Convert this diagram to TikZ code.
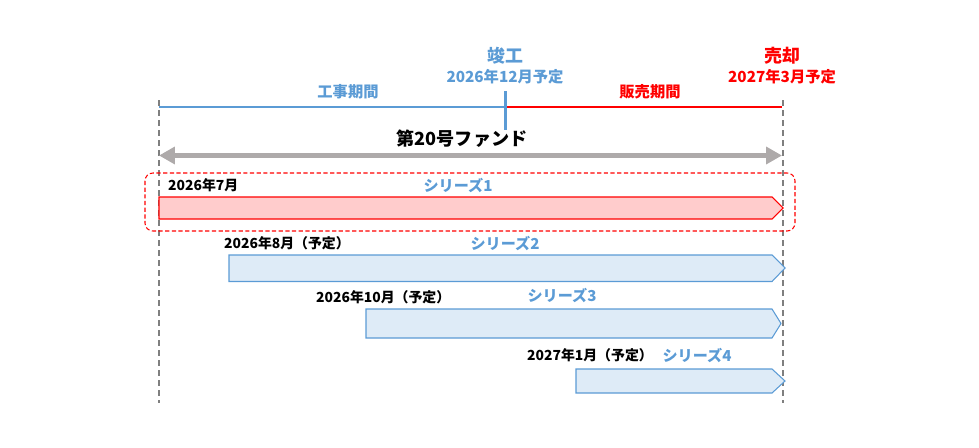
\documentclass[tikz,border=0pt]{standalone}
\usepackage{fontspec}
\setmainfont{Noto Sans CJK JP}
\usetikzlibrary{arrows.meta}
\definecolor{kblue}{HTML}{5B9BD5}
\definecolor{kred}{HTML}{FF0000}
\definecolor{kgray}{HTML}{AEAAAA}
\definecolor{kdash}{HTML}{7F7F7F}
\definecolor{redfill}{HTML}{FFCCCC}
\definecolor{bluefill}{HTML}{DEEBF7}
\begin{document}
\begin{tikzpicture}[x=0.02cm, y=-0.02cm,
    datum/.style={anchor=west, font=\bfseries\fontsize{7.9}{9}\selectfont},
    serie/.style={text=kblue, font=\bfseries\fontsize{8.6}{10}\selectfont},
    kop/.style={font=\bfseries\fontsize{10.2}{12}\selectfont},
    sub/.style={font=\bfseries\fontsize{8.7}{10}\selectfont},
    bluebar/.style={draw=kblue, fill=bluefill, line width=0.6pt},
    redbar/.style={draw=kred, fill=redfill, line width=0.6pt}]
    \useasboundingbox (0, 0) rectangle (979, 447);

    %% grenzen
    \coordinate (lt) at (159, 100);
    \coordinate (lb) at (159, 403);
    \coordinate (rt) at (783, 100);
    \coordinate (rb) at (783, 403);
    \draw[kdash, line width=1.1pt, dash pattern=on 3.4pt off 2.3pt] (lt) to (lb);
    \draw[kdash, line width=1.1pt, dash pattern=on 3.4pt off 2.3pt] (rt) to (rb);

    %% periodes
    \coordinate (bs) at (159, 107);
    \coordinate (bm) at (505, 107);
    \coordinate (be) at (782, 107);
    \draw[draw=kblue, line width=1.3pt] (bs) to (bm);
    \draw[draw=kred, line width=1.3pt] (bm) to (be);
    \coordinate (tt) at (505, 91);
    \coordinate (tb) at (505, 130);
    \draw[draw=kblue, line width=1.7pt] (tt) to (tb);

    \node[sub, text=kblue] at(348, 92)(bouw){工事期間};
    \node[sub, text=kred] at(650, 92)(verkoop){販売期間};

    \node[kop, text=kblue] at(505, 56)(klaar){竣工};
    \node[sub, text=kblue] at(505, 77)(klaardatum){2026年12月予定};
    \node[kop, text=kred] at(782, 56)(verkocht){売却};
    \node[sub, text=kred] at(782, 77)(verkochtdatum){2027年3月予定};

    %% fonds
    \node[kop, font=\bfseries\fontsize{10.3}{12}\selectfont] at(462, 139)(fonds){第20号ファンド};
    \coordinate (fl) at (159, 155.5);
    \coordinate (fr) at (782, 155.5);
    \draw[kgray, line width=3.4pt, {Triangle[length=9pt, width=9.5pt]}-{Triangle[length=9pt, width=9.5pt]}] (fl) to (fr);

    %% series
    \draw[kred, line width=0.6pt, dash pattern=on 2.4pt off 1.4pt, rounded corners=4.5pt] (145, 173) rectangle (795, 231);

    \draw[redbar] (159, 197) to (772, 197) to (783, 208) to (772, 219) to (159, 219) to cycle;
    \node[datum] at(162, 185.5)(d1){2026年7月};
    \node[serie] at(458, 185)(s1){シリーズ1};

    \draw[bluebar] (229, 255) to (772, 255) to (785, 268) to (772, 281.5) to (229, 281.5) to cycle;
    \node[datum] at(218, 243.5)(d2){2026年8月（予定）};
    \node[serie] at(505, 243)(s2){シリーズ2};

    \draw[bluebar] (366, 309) to (772, 309) to (781, 323.5) to (772, 338) to (366, 338) to cycle;
    \node[datum] at(310, 297.5)(d3){2026年10月（予定）};
    \node[serie] at(562, 295)(s3){シリーズ3};

    \draw[bluebar] (576, 369) to (772, 369) to (785, 381) to (772, 393) to (576, 393) to cycle;
    \node[datum] at(521, 355.5)(d4){2027年1月（予定）};
    \node[serie] at(697, 355)(s4){シリーズ4};
\end{tikzpicture}
\end{document}
